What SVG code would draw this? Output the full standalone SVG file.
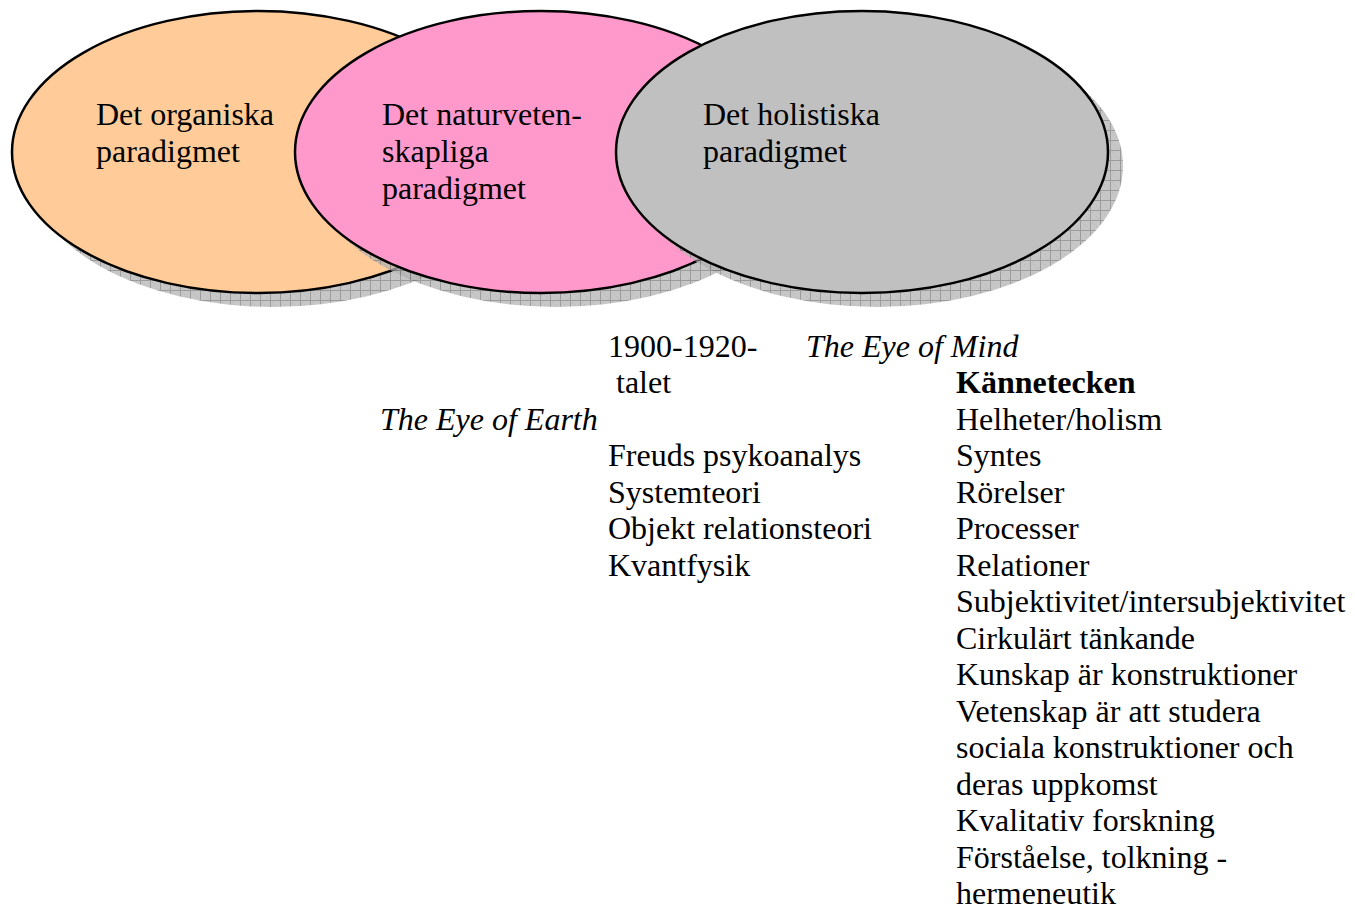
<svg xmlns="http://www.w3.org/2000/svg" width="1355" height="911" viewBox="0 0 1355 911">
<style>
.t{font-family:"Liberation Serif","Times New Roman",serif;font-size:32px;fill:#000}
.i{font-style:italic}
.b{font-weight:bold}
.el{stroke:#000;stroke-width:2.5}
.sh{fill:url(#hatch);opacity:0.75}
</style>
<defs>
<pattern id="hatch" width="10" height="10" patternUnits="userSpaceOnUse">
<rect width="10" height="10" fill="#b4b4b4"/>
<rect x="0" y="0" width="1" height="1" fill="#9a9a9a"/>
<rect x="2" y="2" width="1" height="1" fill="#a0a0a0"/>
<rect x="4" y="4" width="1" height="1" fill="#a0a0a0"/>
<rect x="6" y="6" width="1" height="1" fill="#a0a0a0"/>
<rect x="8" y="8" width="1" height="1" fill="#a0a0a0"/>
<path d="M0 0.5H10M0.5 0V10" stroke="#7a7a7a" stroke-width="1" fill="none"/>
</pattern>
</defs>
<g id="node-organiska">
<ellipse class="sh" cx="273" cy="166" rx="246" ry="141"/>
<ellipse class="el" cx="258" cy="152" rx="246" ry="141" fill="#ffcc99"/>
<text class="t" x="96" y="125">Det organiska</text>
<text class="t" x="96" y="162">paradigmet</text>
</g>
<g id="node-naturvetenskapliga">
<ellipse class="sh" cx="556" cy="166" rx="246" ry="141"/>
<ellipse class="el" cx="541" cy="152" rx="246" ry="141" fill="#ff99cc"/>
<text class="t" x="382" y="125">Det naturveten-</text>
<text class="t" x="382" y="162">skapliga</text>
<text class="t" x="382" y="199">paradigmet</text>
</g>
<g id="node-holistiska">
<ellipse class="sh" cx="877" cy="166" rx="246" ry="141"/>
<ellipse class="el" cx="862" cy="152" rx="246" ry="141" fill="#c0c0c0"/>
<text class="t" x="703" y="125">Det holistiska</text>
<text class="t" x="703" y="162">paradigmet</text>
</g>
<g id="connectors"></g>
<g id="labels">
<text class="t" x="608" y="357">1900-1920-</text>
<text class="t" x="608" y="393" xml:space="preserve"> talet</text>
<text class="t i" x="806" y="357">The Eye of Mind</text>
<text class="t i" x="380" y="430">The Eye of Earth</text>
<text class="t" x="608" y="466">Freuds psykoanalys</text>
<text class="t" x="608" y="502.5">Systemteori</text>
<text class="t" x="608" y="539">Objekt relationsteori</text>
<text class="t" x="608" y="575.5">Kvantfysik</text>
<text class="t b" x="956" y="393">Kännetecken</text>
<text class="t" x="956" y="429.5">Helheter/holism</text>
<text class="t" x="956" y="466">Syntes</text>
<text class="t" x="956" y="502.5">Rörelser</text>
<text class="t" x="956" y="539">Processer</text>
<text class="t" x="956" y="575.5">Relationer</text>
<text class="t" x="956" y="612">Subjektivitet/intersubjektivitet</text>
<text class="t" x="956" y="648.5">Cirkulärt tänkande</text>
<text class="t" x="956" y="685">Kunskap är konstruktioner</text>
<text class="t" x="956" y="721.5">Vetenskap är att studera</text>
<text class="t" x="956" y="758">sociala konstruktioner och</text>
<text class="t" x="956" y="794.5">deras uppkomst</text>
<text class="t" x="956" y="831">Kvalitativ forskning</text>
<text class="t" x="956" y="867.5">Förståelse, tolkning -</text>
<text class="t" x="956" y="904">hermeneutik</text>
</g>
</svg>
